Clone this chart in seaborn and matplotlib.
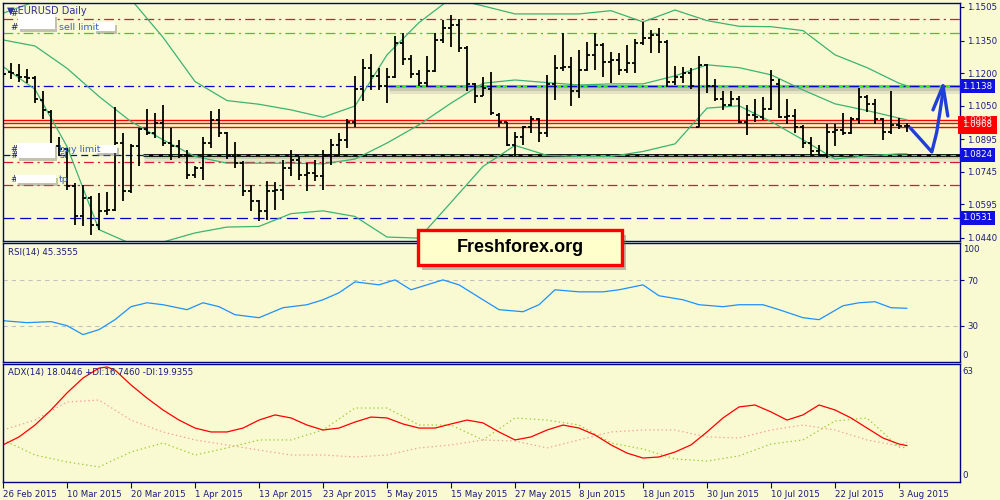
import matplotlib
matplotlib.use('Agg')
import matplotlib.pyplot as plt
import matplotlib.patheffects as pe
from matplotlib.patches import Rectangle
import numpy as np
import pandas as pd
import seaborn as sns

# ---- data (EURUSD daily) ----
dates = pd.bdate_range('2015-02-26', '2015-08-04')

opens = [1.1364, 1.1207, 1.1192, 1.1181, 1.1176, 1.1076, 1.1022, 1.0861, 1.0849, 1.0677,
         1.0538, 1.0623, 1.0500, 1.0561, 1.0569, 1.0877, 1.0654, 1.0861, 1.0941, 1.0923,
         1.0969, 1.0877, 1.0861, 1.0823, 1.0731, 1.0761, 1.0877, 1.0984, 1.0923, 1.0815,
         1.0784, 1.0654, 1.0608, 1.0561, 1.0654, 1.0661, 1.0761, 1.0800, 1.0731, 1.0738,
         1.0723, 1.0823, 1.0869, 1.0892, 1.0976, 1.1125, 1.1222, 1.1187, 1.1138, 1.1181,
         1.1338, 1.1264, 1.1196, 1.1153, 1.1211, 1.1353, 1.1407, 1.1422, 1.1314, 1.1150,
         1.1095, 1.1125, 1.1007, 1.0972, 1.0866, 1.0904, 1.0950, 1.0987, 1.0923, 1.1150,
         1.1222, 1.1230, 1.1115, 1.1215, 1.1284, 1.1330, 1.1253, 1.1261, 1.1215, 1.1245,
         1.1338, 1.1361, 1.1376, 1.1345, 1.1161, 1.1184, 1.1202, 1.0953, 1.1238, 1.1141,
         1.1079, 1.1053, 1.1079, 1.0976, 1.1007, 1.0996, 1.1033, 1.1150, 1.0999, 1.1003,
         1.0950, 1.0877, 1.0838, 1.0823, 1.0930, 1.0938, 1.0923, 1.0987, 1.1089, 1.1058,
         1.0987, 1.0926, 1.0961, 1.0956]
highs = [1.1384, 1.1245, 1.1242, 1.1218, 1.1187, 1.1115, 1.1030, 1.0907, 1.0853, 1.0692,
         1.0684, 1.0631, 1.0646, 1.0649, 1.1042, 1.0923, 1.0873, 1.0946, 1.1033, 1.1015,
         1.1053, 1.0946, 1.0892, 1.0846, 1.0769, 1.0907, 1.1027, 1.1033, 1.0930, 1.0884,
         1.0792, 1.0684, 1.0615, 1.0700, 1.0695, 1.0800, 1.0846, 1.0815, 1.0784, 1.0800,
         1.0846, 1.0895, 1.0923, 1.0987, 1.1187, 1.1264, 1.1288, 1.1222, 1.1222, 1.1371,
         1.1387, 1.1284, 1.1215, 1.1279, 1.1384, 1.1445, 1.1468, 1.1448, 1.1325, 1.1153,
         1.1181, 1.1207, 1.1015, 1.0976, 1.0926, 1.0956, 1.1003, 1.0992, 1.1192, 1.1284,
         1.1384, 1.1276, 1.1307, 1.1345, 1.1384, 1.1338, 1.1299, 1.1294, 1.1330, 1.1356,
         1.1437, 1.1399, 1.1407, 1.1353, 1.1233, 1.1230, 1.1222, 1.1279, 1.1242, 1.1172,
         1.1119, 1.1119, 1.1095, 1.1053, 1.1079, 1.1089, 1.1215, 1.1172, 1.1079, 1.1033,
         1.0961, 1.0907, 1.0869, 1.0966, 1.0966, 1.1015, 1.0996, 1.1130, 1.1099, 1.1079,
         1.0992, 1.1115, 1.0992, 1.0969]
lows = [1.1184, 1.1172, 1.1161, 1.1153, 1.1064, 1.0987, 1.0853, 1.0815, 1.0661, 1.0500,
        1.0492, 1.0454, 1.0477, 1.0546, 1.0561, 1.0608, 1.0646, 1.0769, 1.0915, 1.0900,
        1.0861, 1.0797, 1.0807, 1.0711, 1.0715, 1.0707, 1.0853, 1.0907, 1.0803, 1.0761,
        1.0631, 1.0561, 1.0515, 1.0523, 1.0569, 1.0615, 1.0723, 1.0707, 1.0654, 1.0700,
        1.0661, 1.0777, 1.0815, 1.0853, 1.0953, 1.1069, 1.1122, 1.1122, 1.1064, 1.1176,
        1.1238, 1.1176, 1.1138, 1.1135, 1.1207, 1.1338, 1.1322, 1.1299, 1.1115, 1.1061,
        1.1092, 1.1007, 1.0953, 1.0861, 1.0818, 1.0866, 1.0923, 1.0884, 1.0907, 1.1076,
        1.1211, 1.1046, 1.1084, 1.1211, 1.1215, 1.1184, 1.1153, 1.1192, 1.1202, 1.1199,
        1.1330, 1.1291, 1.1291, 1.1135, 1.1145, 1.1156, 1.1125, 1.0950, 1.1110, 1.1069,
        1.1030, 1.1046, 1.0969, 1.0915, 1.0976, 1.0984, 1.1030, 1.0992, 1.0966, 1.0923,
        1.0853, 1.0823, 1.0815, 1.0807, 1.0864, 1.0915, 1.0920, 1.0966, 1.1018, 1.0966,
        1.0892, 1.0920, 1.0941, 1.0926]
closes = [1.1196, 1.1199, 1.1181, 1.1176, 1.1079, 1.1030, 1.0864, 1.0849, 1.0677, 1.0538,
          1.0623, 1.0500, 1.0561, 1.0569, 1.0877, 1.0654, 1.0861, 1.0941, 1.0923, 1.0969,
          1.0877, 1.0861, 1.0823, 1.0731, 1.0761, 1.0877, 1.0984, 1.0923, 1.0815, 1.0784,
          1.0654, 1.0608, 1.0561, 1.0654, 1.0661, 1.0761, 1.0800, 1.0731, 1.0738, 1.0723,
          1.0823, 1.0869, 1.0892, 1.0976, 1.1125, 1.1222, 1.1187, 1.1138, 1.1181, 1.1338,
          1.1264, 1.1196, 1.1153, 1.1211, 1.1353, 1.1407, 1.1422, 1.1314, 1.1150, 1.1095,
          1.1130, 1.1015, 1.0972, 1.0866, 1.0904, 1.0950, 1.0987, 1.0923, 1.1150, 1.1222,
          1.1230, 1.1115, 1.1215, 1.1284, 1.1330, 1.1253, 1.1261, 1.1215, 1.1245, 1.1338,
          1.1361, 1.1376, 1.1345, 1.1161, 1.1184, 1.1202, 1.1141, 1.1238, 1.1141, 1.1079,
          1.1053, 1.1079, 1.0976, 1.1007, 1.0996, 1.1033, 1.1168, 1.0999, 1.1003, 1.0950,
          1.0877, 1.0838, 1.0823, 1.0930, 1.0938, 1.0923, 1.0987, 1.1089, 1.1058, 1.0987,
          1.0926, 1.0961, 1.0956, 1.0956]

# Bollinger bands, read every 4th bar
bb_idx = [0, 4, 8, 12, 16, 20, 24, 28, 32, 36, 40, 44, 48, 52, 56, 60, 64, 68, 72, 76,
          80, 84, 88, 92, 96, 100, 104, 108, 112, 113]
bb_upper = [1.1476, 1.1530, 1.1583, 1.1700, 1.1540, 1.1365, 1.1161, 1.1073, 1.1056, 1.1030,
            1.0996, 1.1048, 1.1284, 1.1433, 1.1545, 1.1510, 1.1473, 1.1473, 1.1473, 1.1488,
            1.1436, 1.1491, 1.1442, 1.1416, 1.1414, 1.1396, 1.1284, 1.1225, 1.1153, 1.1141]
bb_mid = [1.1353, 1.1325, 1.1222, 1.1092, 1.0976, 1.0892, 1.0815, 1.0784, 1.0784, 1.0784,
          1.0781, 1.0803, 1.0877, 1.0961, 1.1061, 1.1153, 1.1168, 1.1156, 1.1145, 1.1150,
          1.1150, 1.1187, 1.1238, 1.1225, 1.1192, 1.1122, 1.1058, 1.1027, 1.0992, 1.0984]
bb_lower = [1.1230, 1.1125, 1.0861, 1.0477, 1.0412, 1.0420, 1.0462, 1.0489, 1.0492, 1.0551,
            1.0564, 1.0538, 1.0443, 1.0438, 1.0603, 1.0769, 1.0866, 1.0820, 1.0815, 1.0815,
            1.0838, 1.0873, 1.1038, 1.1049, 1.0976, 1.0892, 1.0803, 1.0818, 1.0827, 1.0827]

# RSI(14)
rsi_idx = [0, 3, 6, 8, 10, 12, 14, 16, 18, 20, 23, 25, 27, 29, 32, 35, 38, 40, 42, 44,
           47, 49, 51, 53, 55, 57, 60, 62, 65, 67, 69, 72, 75, 77, 80, 82, 85, 87, 90, 92,
           95, 97, 100, 102, 105, 107, 109, 111, 113]
rsi_val = [34.6, 32.9, 33.8, 30.3, 22.5, 26.8, 35.5, 46.8, 50.2, 48.5, 44.2, 50.2, 46.8, 39.8,
           37.2, 45.9, 48.5, 52.8, 58.9, 68.4, 65.8, 70.1, 61.5, 65.8, 70.1, 65.8, 52.8, 44.2,
           42.4, 48.5, 61.5, 59.7, 59.7, 61.5, 65.8, 56.3, 52.8, 48.5, 46.8, 48.5, 48.5, 44.2,
           37.2, 35.5, 47.6, 50.2, 51.1, 45.9, 45.4]

# ADX(14)
adx_idx = [0, 2, 4, 6, 8, 10, 12, 13, 14, 16, 18, 20, 22, 24, 26, 28, 30, 32, 34, 36,
           38, 40, 42, 44, 46, 48, 50, 52, 54, 56, 58, 60, 62, 64, 66, 68, 70, 72, 74, 76,
           78, 80, 82, 84, 86, 88, 90, 92, 94, 96, 98, 100, 102, 104, 106, 108, 110, 112, 113]
adx_val = [18.4, 22.9, 29.6, 38.1, 47.7, 56.1, 61.7, 62.3, 60.6, 52.2, 44.8, 38.1, 32.4, 27.9,
           25.7, 25.7, 27.9, 32.4, 35.3, 33.6, 29.6, 26.8, 27.9, 31.3, 34.1, 33.6, 30.2, 27.9,
           27.9, 30.2, 32.4, 30.8, 25.7, 21.2, 22.9, 26.8, 29.6, 27.9, 24.0, 18.4, 13.8, 11.0,
           11.6, 14.4, 18.4, 25.7, 33.6, 39.8, 40.9, 37.0, 32.4, 35.3, 40.9, 38.1, 33.6, 27.9,
           22.3, 18.9, 18.0]
di_idx = [0, 4, 8, 12, 16, 20, 24, 28, 32, 36, 40, 44, 48, 52, 56, 60, 64, 68, 72, 76,
          80, 84, 88, 92, 96, 100, 104, 108, 112, 113]
plus_di = [21.2, 12.7, 8.8, 6.0, 14.4, 19.5, 12.7, 16.7, 21.2, 21.2, 26.8, 39.2, 39.2, 29.6,
           29.6, 21.2, 33.6, 32.4, 29.6, 19.5, 16.1, 10.5, 9.3, 12.2, 18.9, 21.2, 31.9, 33.6,
           17.2, 16.7]
minus_di = [26.8, 32.4, 42.6, 43.7, 32.4, 25.7, 21.2, 18.4, 15.5, 12.7, 12.7, 11.6, 12.7, 16.7,
            18.4, 21.2, 20.6, 16.7, 21.2, 25.7, 26.8, 26.8, 22.9, 22.3, 26.8, 29.6, 26.8, 21.2,
            17.8, 19.9]

# order levels drawn on the chart
sell_sl, sell_limit = 1.1450, 1.1385
resistance = 1.1138
pivot_lines = [1.0983, 1.0968, 1.0953]
support = 1.0824
buy_sl, buy_tp = 1.0790, 1.0685
low_level = 1.0531

price_ticks = [1.1505, 1.1350, 1.1200, 1.1050, 1.0895, 1.0745, 1.0595, 1.0440]

# hand-drawn forecast arrow (bar index, price)
arrow_x = [113.4, 114.8, 116.1, 116.7, 117.1, 117.4, 117.5]
arrow_y = [1.0947, 1.0890, 1.0836, 1.0924, 1.1016, 1.1090, 1.1141]
barb_x = [116.25, 117.5, 118.1]
barb_y = [1.1030, 1.1141, 1.1002]

# ---- style ----
BG = '#FAFAD2'
NAVY = '#000080'
TXT = '#1A1A80'
sns.set_style('white', {'axes.facecolor': BG, 'figure.facecolor': BG,
                        'axes.edgecolor': NAVY})
plt.rcParams['font.family'] = ['DejaVu Sans']
plt.rcParams['lines.scale_dashes'] = False

fig = plt.figure(figsize=(10, 5), dpi=100)


def px_axes(top, bottom, left=3, right=960):
    return fig.add_axes([left / 1000, 1 - bottom / 500, (right - left) / 1000, (bottom - top) / 500])


def fig_box(x0, y0, x1, y1, face='white', shadow=True, z=5):
    if shadow:
        fig.patches.append(Rectangle((x0 / 1000 + 0.002, 1 - (y1 + 3) / 500), (x1 - x0) / 1000,
                                     (y1 - y0) / 500, transform=fig.transFigure,
                                     facecolor='#808080', alpha=0.45, edgecolor='none', zorder=z))
    fig.patches.append(Rectangle((x0 / 1000, 1 - y1 / 500), (x1 - x0) / 1000, (y1 - y0) / 500,
                                 transform=fig.transFigure, facecolor=face,
                                 edgecolor='none', zorder=z + 0.1))


ax = px_axes(2.7, 240.7)
ax_rsi = px_axes(243, 361.5)
ax_adx = px_axes(364, 482)

x_right = (960 - 3) / 8
for a in (ax, ax_rsi, ax_adx):
    a.set_xlim(0, x_right)
    for s in a.spines.values():
        s.set_color(NAVY)
        s.set_linewidth(1)
    a.set_xlabel('')
    a.set_ylabel('')

# ---- main price panel ----
x = np.arange(len(dates))
ax.set_ylim(1.04261, 1.15248)

sh = [pe.SimpleLineShadow(offset=(1, -2), shadow_color='#707070', alpha=0.35),
      pe.SimpleLineShadow(offset=(1, -4), shadow_color='#909090', alpha=0.2),
      pe.Normal()]

ax.axhline(sell_sl, color='#DC143C', lw=0.9, ls=(0, (7, 3, 1.5, 3)))
ax.axhline(sell_limit, color='#32CD32', lw=0.9, ls=(0, (7, 3, 1.5, 3)))
ax.hlines(resistance, 48.1, x_right, color='#33EE33', lw=2.2, path_effects=sh)
ax.axhline(resistance, color='#0000CD', lw=0.9, ls=(0, (7, 3, 1.5, 3)))
for p in pivot_lines:
    ax.axhline(p, color='#FF0000', lw=1.0)
ax.axhline(support, color='#0000CD', lw=0.9, ls=(0, (5, 3)))
ax.hlines(support, 17.5, x_right, color='black', lw=2.0, path_effects=sh)
ax.hlines(support, 17.5, x_right, color='#33EE33', lw=0.8, ls=(0, (4, 3)))
ax.axhline(buy_sl, color='#DC143C', lw=0.9, ls=(0, (7, 3, 1.5, 3)))
ax.axhline(buy_tp, color='#DC143C', lw=0.9, ls=(0, (7, 3, 1.5, 3)))
ax.axhline(low_level, color='#0000CD', lw=0.9, ls=(0, (8, 4)))

bb = pd.DataFrame({'idx': bb_idx, 'upper': bb_upper, 'mid': bb_mid, 'lower': bb_lower})
for col in ['upper', 'mid', 'lower']:
    sns.lineplot(data=bb, x='idx', y=col, ax=ax, color='#3CB371', lw=0.9, estimator=None)

ax.vlines(x, lows, highs, color='black', lw=1.3, zorder=4)
ax.hlines(opens, x - 0.4, x, color='black', lw=1.3, zorder=4)
ax.hlines(closes, x, x + 0.4, color='black', lw=1.3, zorder=4)

ax.plot(arrow_x, arrow_y, color='#1F3FD8', lw=2.4, solid_capstyle='round',
        solid_joinstyle='round', clip_on=False, zorder=6)
ax.plot(barb_x, barb_y, color='#1F3FD8', lw=2.4, solid_capstyle='round',
        solid_joinstyle='round', clip_on=False, zorder=6)

ax.yaxis.tick_right()
ax.set_yticks(price_ticks)
ax.set_yticklabels([f'{p:.4f}' for p in price_ticks])
ax.tick_params(axis='y', direction='out', length=3, width=0.8, color=NAVY,
               labelcolor=TXT, labelsize=6.2, pad=2, right=True)
ax.set_xticks([])
ax.set_xlabel('')
ax.set_ylabel('')

ytr = ax.get_yaxis_transform()
for val, face in [(resistance, '#1010E0'), (support, '#1010E0'), (low_level, '#1010E0')]:
    ax.text(1.0025, val, f'{val:.4f}', transform=ytr, color='white', fontsize=6.2,
            va='center', ha='left', zorder=10, clip_on=False,
            bbox=dict(facecolor=face, edgecolor='none', pad=1.8))
ax.text(1.0025, 1.0961, '1.0968', transform=ytr, color='white', fontsize=6.2,
        va='center', ha='left', zorder=10, clip_on=False,
        bbox=dict(facecolor='#FF0000', edgecolor='none', pad=3.2))
ax.text(1.0025, pivot_lines[0] - 0.0004, f'{pivot_lines[0]:.4f}', transform=ytr,
        color='#FFC0C0', fontsize=6.2, va='center', ha='left', zorder=11, clip_on=False)

# ---- RSI panel ----
ax_rsi.set_ylim(-0.9, 102.2)
ax_rsi.axhline(70, color='#C0C0C0', lw=0.8, ls=(0, (3, 3)))
ax_rsi.axhline(30, color='#C0C0C0', lw=0.8, ls=(0, (3, 3)))
sns.lineplot(x=rsi_idx, y=rsi_val, ax=ax_rsi, color='#1E90FF', lw=0.9, estimator=None)
ax_rsi.set_xticks([])
ax_rsi.yaxis.tick_right()
ax_rsi.set_yticks([70, 30])
ax_rsi.set_yticklabels(['70', '30'])
ax_rsi.tick_params(axis='y', direction='out', length=3, width=0.8, color=NAVY,
                   labelcolor=TXT, labelsize=6.2, pad=2)
ax_rsi.text(1.003, (361.5 - 250) / 118.5, '100', transform=ax_rsi.transAxes, color=TXT,
            fontsize=6.2, va='center', ha='left')
ax_rsi.text(1.003, (361.5 - 356) / 118.5, '0', transform=ax_rsi.transAxes, color=TXT,
            fontsize=6.2, va='center', ha='left')
ax_rsi.text(0.005, 0.92, f'RSI(14) {45.3555:.4f}', transform=ax_rsi.transAxes, color=TXT,
            fontsize=6.2, va='center', ha='left')
ax_rsi.set_xlabel('')
ax_rsi.set_ylabel('')

# ---- ADX panel ----
ax_adx.set_ylim(-2.5, 64)
sns.lineplot(x=di_idx, y=plus_di, ax=ax_adx, color='#9ACD32', lw=0.9, estimator=None,
             linestyle=(0, (1, 2)))
sns.lineplot(x=di_idx, y=minus_di, ax=ax_adx, color='#F4A0A0', lw=0.9, estimator=None,
             linestyle=(0, (1, 2)))
sns.lineplot(x=adx_idx, y=adx_val, ax=ax_adx, color='#FF0000', lw=0.9, estimator=None)
ax_adx.set_yticks([])
ax_adx.text(1.003, (482 - 372) / 118, '63', transform=ax_adx.transAxes, color=TXT,
            fontsize=6.2, va='center', ha='left')
ax_adx.text(1.003, (482 - 475) / 118, '0', transform=ax_adx.transAxes, color=TXT,
            fontsize=6.2, va='center', ha='left')
ax_adx.text(0.005, 0.925, 'ADX(14) 18.0446 +DI:16.7460 -DI:19.9355',
            transform=ax_adx.transAxes, color=TXT, fontsize=6.2, va='center', ha='left')

tick_pos = list(range(0, len(dates), 8))
ax_adx.set_xticks(tick_pos)
ax_adx.set_xticklabels([f'{dates[i].day} {dates[i]:%b %Y}' for i in tick_pos])
for lbl in ax_adx.get_xticklabels():
    lbl.set_ha('left')
ax_adx.tick_params(axis='x', direction='out', length=4, width=0.8, color=NAVY,
                   labelcolor=TXT, labelsize=6.2, pad=1.5, bottom=True)
ax_adx.set_xlabel('')
ax_adx.set_ylabel('')

# ---- overlaid texts and masked labels ----
fig.text(7 / 1000, fig_y := 1 - 11 / 500, '\u25bc EURUSD Daily', color='#3030A0',
         fontsize=7, va='center', ha='left', zorder=4)
fig.text(10 / 1000, 1 - 14 / 500, '#', color=TXT, fontsize=6.5, va='center', zorder=4)
fig.text(10 / 1000, 1 - 27 / 500, '#', color=TXT, fontsize=6.5, va='center', zorder=4)
fig_box(18, 14, 55, 29)
fig.text(59 / 1000, 1 - 27 / 500, 'sell limit', color='#3A5FCD', fontsize=6.8,
         va='center', zorder=7)
fig_box(94, 22, 115, 31)

fig.text(10 / 1000, 1 - 149 / 500, '#', color=TXT, fontsize=6.5, va='center', zorder=4)
fig.text(10 / 1000, 1 - 155 / 500, '#', color=TXT, fontsize=6.5, va='center', zorder=4)
fig.text(59 / 1000, 1 - 155 / 500, 'sl', color='#3A5FCD', fontsize=6.8, va='center', zorder=4)
fig_box(17, 143, 55, 158)
fig.text(59 / 1000, 1 - 149 / 500, 'buy limit', color='#3A5FCD', fontsize=6.8,
         va='center', zorder=7)
fig_box(95, 145, 117, 153)

fig.text(10 / 1000, 1 - 180 / 500, '#', color=TXT, fontsize=6.5, va='center', zorder=4)
fig_box(16, 175, 56, 183)
fig.text(59 / 1000, 1 - 180 / 500, 'tp', color='#3A5FCD', fontsize=6.8, va='center', zorder=7)

# watermark box
fig.patches.append(Rectangle((422 / 1000, 1 - 270 / 500), 204 / 1000, 35 / 500,
                             transform=fig.transFigure, facecolor='#707070', alpha=0.45,
                             edgecolor='none', zorder=8))
fig.patches.append(Rectangle((418 / 1000, 1 - 265 / 500), 204 / 1000, 35 / 500,
                             transform=fig.transFigure, facecolor='#FFFFCC',
                             edgecolor='#FF0000', lw=2.4, zorder=8.1))
fig.text(520 / 1000, 1 - 248 / 500, 'Freshforex.org', family='Liberation Sans',
         fontweight='bold', fontsize=13, color='black', ha='center', va='center', zorder=9)

fig.savefig('out.png', dpi=100, facecolor=BG)
